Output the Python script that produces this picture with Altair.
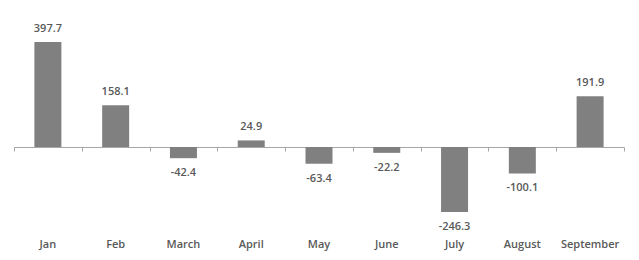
import altair as alt
import pandas as pd

months = ["Jan", "Feb", "March", "April", "May", "June", "July", "August", "September"]
values = [397.7, 158.1, -42.4, 24.9, -63.4, -22.2, -246.3, -100.1, 191.9]
labels = ["397.7", "158.1", "-42.4", "24.9", "-63.4", "-22.2", "-246.3", "-100.1", "191.9"]

df = pd.DataFrame({"month": months, "value": values, "label": labels})

W, H = 610, 210
ymin, ymax = -314.4, 481.0
zero_px = H * ymax / (ymax - ymin)
FONT = "Open Sans"
TXT = "#595959"

x_enc = alt.X("month:N", sort=months, scale=alt.Scale(paddingInner=0, paddingOuter=0),
              axis=alt.Axis(orient="bottom", labels=False, ticks=True, domain=True,
                            tickBand="extent", tickSize=4, domainColor="#a6a6a6",
                            tickColor="#a6a6a6", title=None, grid=False,
                            offset=-(H - zero_px)))
x_lab = alt.X("month:N", sort=months,
              axis=alt.Axis(orient="bottom", labels=True, ticks=False, domain=False,
                            title=None, grid=False, labelPadding=8, labelFont=FONT,
                            labelFontSize=11, labelColor=TXT, labelFontWeight=600,
                            labelAngle=0))
y_enc = alt.Y("value:Q", scale=alt.Scale(domain=[ymin, ymax], nice=False, zero=False),
              axis=None)

bars = alt.Chart(df).mark_bar(size=27, color="#808080").encode(x=x_enc, y=y_enc)

pos = alt.Chart(df).transform_filter("datum.value >= 0").mark_text(
    baseline="bottom", dy=-8, font=FONT, fontSize=11, fontWeight=600, color=TXT
).encode(x=x_lab, y=alt.Y("value:Q"), text="label:N")

neg = alt.Chart(df).transform_filter("datum.value < 0").mark_text(
    baseline="top", dy=9, font=FONT, fontSize=11, fontWeight=600, color=TXT
).encode(x=alt.X("month:N", sort=months, axis=None), y=alt.Y("value:Q"), text="label:N")

chart = alt.layer(bars, pos, neg).resolve_axis(x="independent").properties(
    width=W, height=H,
    autosize=alt.AutoSizeParams(type="none"),
    padding={"left": 14, "top": 20, "right": 15, "bottom": 30},
).configure_view(stroke=None).configure_axis(grid=False)

chart.save("out.html", embed_options={"renderer": "svg", "actions": False})
